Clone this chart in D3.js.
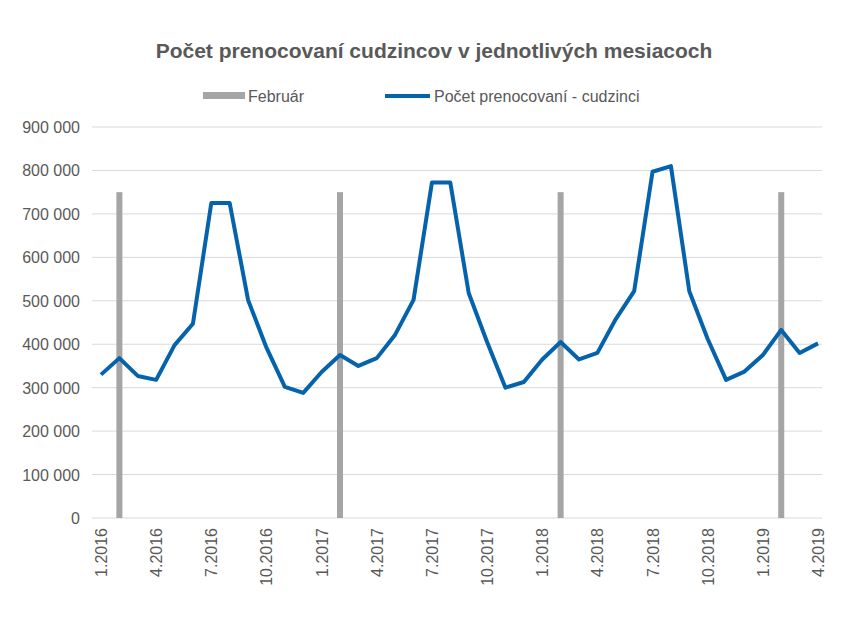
<!DOCTYPE html>
<html><head><meta charset="utf-8">
<script src="https://cdn.jsdelivr.net/npm/d3@7"></script>
<style>body{margin:0;background:#fff;font-family:Arial,"Liberation Sans",sans-serif}</style>
</head><body><svg id="c" width="868" height="633"></svg>
<script>
// data
var months = [];
for (var yr = 2016; yr <= 2019; yr++) for (var m = 1; m <= 12; m++) if (!(yr === 2019 && m > 4)) months.push(m + "." + yr);
var nights = [330000,368000,327000,318000,398000,447000,725000,725000,502000,392000,302000,288000,
              336000,375000,350000,368000,422000,502000,772000,772000,518000,405000,300000,313000,
              365000,405000,365000,380000,458000,522000,797000,810000,522000,412000,318000,337000,
              375000,433000,380000,402000];
var februaryMonths = ["2.2016","2.2017","2.2018","2.2019"];
var februaryValue = 750000;
var yTicks = d3.range(0, 900001, 100000);

var svg = d3.select("#c"),
    plotLeft = 101, plotRight = 818, plotTop = 127, plotBottom = 518;

var x = d3.scalePoint().domain(months).range([plotLeft, plotRight]);
var yS = d3.scaleLinear().domain([0, 900000]).range([plotBottom, plotTop]);
var fmt = function(v){ return d3.format(",")(v).replace(/,/g, " "); };

svg.append("text").attr("x", 434).attr("y", 58).attr("text-anchor", "middle")
  .attr("font-size", 21).attr("font-weight", "bold").attr("fill", "#595959")
  .text("Počet prenocovaní cudzincov v jednotlivých mesiacoch");

// grid + y labels
yTicks.forEach(function(t){
  svg.append("line").attr("x1", 92).attr("x2", 822).attr("y1", yS(t)).attr("y2", yS(t))
    .attr("stroke", "#d9d9d9").attr("stroke-width", 1);
  svg.append("text").attr("x", 80).attr("y", yS(t) + 6).attr("text-anchor", "end")
    .attr("font-size", 16).attr("fill", "#595959").text(fmt(t));
});

// february bars
svg.selectAll(".feb").data(februaryMonths).enter().append("rect")
  .attr("x", function(d){ return x(d) - 3; }).attr("width", 6)
  .attr("y", yS(februaryValue)).attr("height", yS(0) - yS(februaryValue))
  .attr("fill", "#a5a5a5");

// line
svg.append("path").datum(nights)
  .attr("d", d3.line().x(function(d,i){ return x(months[i]); }).y(function(d){ return yS(d); }))
  .attr("fill", "none").attr("stroke", "#0563ab").attr("stroke-width", 4).attr("stroke-linejoin", "round");

// x labels
months.forEach(function(mo, i){
  if (i % 3 !== 0) return;
  svg.append("text").attr("transform", "translate(" + (x(mo) + 6) + "," + 528 + ") rotate(-90)")
    .attr("text-anchor", "end").attr("font-size", 16).attr("fill", "#595959").text(mo);
});

// legend
svg.append("rect").attr("x", 203).attr("y", 92).attr("width", 42).attr("height", 7).attr("fill", "#a5a5a5");
svg.append("text").attr("x", 248).attr("y", 102).attr("font-size", 16).attr("fill", "#595959").text("Február");
svg.append("line").attr("x1", 385).attr("x2", 430).attr("y1", 96).attr("y2", 96)
  .attr("stroke", "#0563ab").attr("stroke-width", 4);
svg.append("text").attr("x", 434).attr("y", 102).attr("font-size", 16).attr("fill", "#595959").text("Počet prenocovaní - cudzinci");
</script></body></html>
